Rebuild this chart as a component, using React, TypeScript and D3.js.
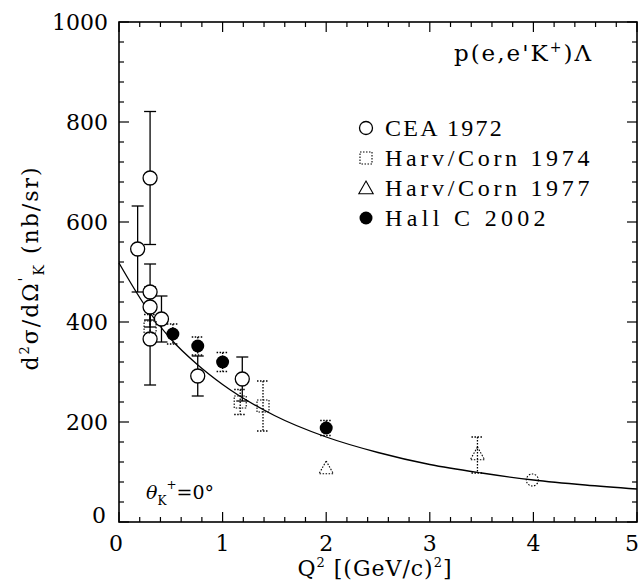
import React from "react";
import * as d3 from "d3";

const W = 640, H = 583;
const X0 = 119, X1 = 637, Y0 = 522, Y1 = 22;

// CEA 1972 (open circles)
const ceaQ2 = [0.18, 0.30, 0.30, 0.30, 0.30, 0.41, 0.76, 1.19];
const ceaSig = [546, 688, 460, 430, 366, 406, 292, 286];
const ceaErr = [86, 133, 56, 40, 92, 46, 40, 44];
// extra faint circle
const ceaFaintQ2 = [3.99];
const ceaFaintSig = [84];

// Harv/Corn 1974 (squares, faint)
const hc74Q2 = [0.30, 1.17, 1.39];
const hc74Sig = [390, 240, 232];
const hc74Err = [25, 25, 50];

// Harv/Corn 1977 (triangles, faint)
const hc77Q2 = [2.0, 3.46];
const hc77Sig = [106, 134];
const hc77Err = [0, 36];

// Hall C 2002 (filled circles)
const hallQ2 = [0.52, 0.76, 1.0, 2.0];
const hallSig = [376, 352, 320, 188];
const hallErr = [20, 18, 19, 15];

// fit curve
const fitQ2 = [0, 0.25, 0.5, 0.75, 1.0, 1.5, 2.0, 2.5, 3.0, 3.5, 4.0, 4.5, 5.0];
const fitSig = [518, 433, 366, 316, 275, 213, 170, 139, 115, 98, 84, 74, 66];

const xTicks = [0, 1, 2, 3, 4, 5];
const yTicks = [0, 200, 400, 600, 800, 1000];

const legendLabels = ["CEA 1972", "Harv/Corn 1974", "Harv/Corn 1977", "Hall C 2002"];

const serif = "'DejaVu Serif', serif";
const mono = "'Liberation Serif', 'DejaVu Serif', serif";

export default function App() {
  const x = d3.scaleLinear().domain([0, 5]).range([X0, X1]);
  const y = d3.scaleLinear().domain([0, 1000]).range([Y0, Y1]);

  const xMinor = d3.range(0, 5.0001, 0.2);
  const yMinor = d3.range(0, 1000.01, 40);

  const line = d3.line<number>()
    .x((_, i) => x(fitQ2[i]))
    .y((d) => y(d))
    .curve(d3.curveMonotoneX);

  const dot = "1.5,1.5";
  const tri = (cx: number, cy: number, s: number) =>
    `M${cx},${cy - s}L${cx + s * 0.9},${cy + s * 0.6}L${cx - s * 0.9},${cy + s * 0.6}Z`;

  const errBar = (cx: number, v: number, e: number, key: string, dashed = false, cap = 6) => {
    if (!e) return null;
    const t = y(v + e), b = y(v - e);
    return (
      <g key={key} stroke="#000" strokeWidth={1.3} strokeDasharray={dashed ? dot : undefined}>
        <line x1={cx} x2={cx} y1={t} y2={b} />
        <line x1={cx - cap} x2={cx + cap} y1={t} y2={t} />
        <line x1={cx - cap} x2={cx + cap} y1={b} y2={b} />
      </g>
    );
  };

  return (
    <svg width={W} height={H} style={{ position: "absolute", left: 0, top: 0, background: "#fff" }}>
      <rect x={0} y={0} width={W} height={H} fill="#fff" />
      {/* frame */}
      <rect x={X0} y={Y1} width={X1 - X0} height={Y0 - Y1} fill="none" stroke="#000" strokeWidth={1.6} />
      {/* ticks */}
      <g stroke="#000" strokeWidth={1.2}>
        {xMinor.map((v, i) => {
          const major = Math.abs(v - Math.round(v)) < 1e-6;
          const l = major ? 10 : 5;
          return (
            <g key={"xt" + i}>
              <line x1={x(v)} x2={x(v)} y1={Y0} y2={Y0 - l} />
              <line x1={x(v)} x2={x(v)} y1={Y1} y2={Y1 + l} />
            </g>
          );
        })}
        {yMinor.map((v, i) => {
          const major = Math.abs(v % 200) < 1e-6;
          const l = major ? 10 : 5;
          return (
            <g key={"yt" + i}>
              <line x1={X0} x2={X0 + l} y1={y(v)} y2={y(v)} />
              <line x1={X1} x2={X1 - l} y1={y(v)} y2={y(v)} />
            </g>
          );
        })}
      </g>
      {/* tick labels */}
      <g fontFamily={serif} fontSize={22} fill="#000">
        {xTicks.map((v) => (
          <text key={"xl" + v} x={v === 5 ? 639 : x(v) - (v === 0 ? 3 : 0)} y={551} textAnchor={v === 5 ? "end" : "middle"}>{v}</text>
        ))}
        {yTicks.map((v) => (
          <text key={"yl" + v} x={v === 0 ? 106 : 108} y={y(v) + 8 - (v === 0 ? 7 : 0)} textAnchor="end">{v}</text>
        ))}
      </g>
      {/* axis titles */}
      <text x={375} y={576} textAnchor="middle" fontFamily={serif} fontSize={22} letterSpacing={1}>
        Q<tspan dy={-9} fontSize={13}>2</tspan><tspan dy={9}> [(GeV/c)</tspan><tspan dy={-9} fontSize={13}>2</tspan><tspan dy={9}>]</tspan>
      </text>
      <text transform="translate(38,268) rotate(-90)" textAnchor="middle" fontFamily={serif} fontSize={22} letterSpacing={2}>
        d<tspan dy={-9} fontSize={13}>2</tspan><tspan dy={9}>σ/dΩ</tspan><tspan dy={-9} fontSize={14}>'</tspan><tspan dy={15} fontSize={14}>K</tspan><tspan dy={-6}> (nb/sr)</tspan>
      </text>
      {/* title */}
      <text x={593} y={61} textAnchor="end" fontFamily={serif} fontSize={23} letterSpacing={2}>
        p(e,e'K<tspan dy={-9} fontSize={14}>+</tspan><tspan dy={9}>)Λ</tspan>
      </text>
      {/* theta label */}
      <text x={146} y={499} fontFamily={serif} fontSize={19} fontStyle="italic">
        θ<tspan dy={6} fontSize={12} fontStyle="normal">K</tspan><tspan dy={-16} fontSize={12} fontStyle="normal">+</tspan><tspan dy={10} fontStyle="normal">=0°</tspan>
      </text>
      {/* fit curve */}
      <path d={line(fitSig) || ""} fill="none" stroke="#000" strokeWidth={1.3} />
      {/* error bars */}
      {ceaQ2.map((q, i) => errBar(x(q), ceaSig[i], ceaErr[i], "ce" + i, false, 6))}
      {hc74Q2.map((q, i) => errBar(x(q), hc74Sig[i], hc74Err[i], "h4e" + i, true, 6))}
      {hc77Q2.map((q, i) => errBar(x(q), hc77Sig[i], hc77Err[i], "h7e" + i, true, 6))}
      {hallQ2.map((q, i) => errBar(x(q), hallSig[i], hallErr[i], "hce" + i, true, 6))}
      {/* markers */}
      {ceaQ2.map((q, i) => (
        <circle key={"c" + i} cx={x(q)} cy={y(ceaSig[i])} r={7} fill="#fff" stroke="#000" strokeWidth={1.3} />
      ))}
      {ceaFaintQ2.map((q, i) => (
        <circle key={"cf" + i} cx={x(q)} cy={y(ceaFaintSig[i])} r={6} fill="none" stroke="#000" strokeWidth={1.1} strokeDasharray={dot} />
      ))}
      {hc74Q2.map((q, i) => (
        <rect key={"s" + i} x={x(q) - 6} y={y(hc74Sig[i]) - 6} width={12} height={12} fill="none" stroke="#000" strokeWidth={1.1} strokeDasharray={dot} />
      ))}
      {hc77Q2.map((q, i) => (
        <path key={"t" + i} d={tri(x(q), y(hc77Sig[i]), 8)} fill="none" stroke="#000" strokeWidth={1.1} strokeDasharray={dot} />
      ))}
      {hallQ2.map((q, i) => (
        <circle key={"f" + i} cx={x(q)} cy={y(hallSig[i])} r={6.5} fill="#000" />
      ))}
      {/* legend */}
      <g>
        <circle cx={366} cy={128} r={6.5} fill="#fff" stroke="#000" strokeWidth={1.3} />
        <rect x={360} y={152} width={12} height={12} fill="none" stroke="#000" strokeWidth={1.1} strokeDasharray={dot} />
        <path d={tri(366, 189, 8)} fill="none" stroke="#000" strokeWidth={1.1} />
        <circle cx={366} cy={218} r={6.5} fill="#000" />
        {legendLabels.map((t, i) => (
          <text key={"lg" + i} x={385} y={136 + 30 * i} fontFamily={mono} fontSize={24} fill="#000"
            textLength={t.length * 14.6} lengthAdjust="spacing">{t}</text>
        ))}
      </g>
    </svg>
  );
}
